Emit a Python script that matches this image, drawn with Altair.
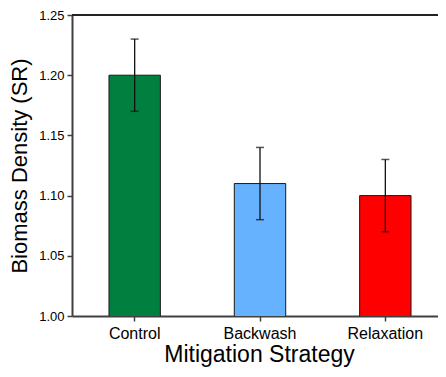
import altair as alt
import pandas as pd

categories = ["Control", "Backwash", "Relaxation"]
means = [1.20, 1.11, 1.10]
err_low = [1.17, 1.08, 1.07]
err_high = [1.23, 1.14, 1.13]
colors = ["#007F3F", "#66B2FF", "#FF0000"]

df = pd.DataFrame({"cat": categories, "mean": means, "lo": err_low, "hi": err_high})

W, H = 366, 301
RANGE_W = 376
FONT = "Liberation Sans"

xenc = alt.X("cat:N", sort=categories, title="Mitigation Strategy",
             scale=alt.Scale(paddingInner=0.59, paddingOuter=0.295, range=[0, RANGE_W]),
             axis=alt.Axis(labelAngle=0, labelFontSize=16, titleFontSize=23,
                           labelFont=FONT, titleFont=FONT, titleFontWeight="normal",
                           labelColor="#000", titleColor="#000",
                           domainColor="#404040", domainWidth=2,
                           tickColor="#404040", tickWidth=1.5, tickSize=5,
                           labelPadding=4, titlePadding=2, titleX=187))

yscale = alt.Scale(domain=[1.0, 1.25], nice=False, zero=False)
yaxis = alt.Axis(values=[1.0, 1.025, 1.05, 1.075, 1.10, 1.125, 1.15, 1.175, 1.20, 1.225, 1.25],
                 format=".2f",
                 labelExpr="round(datum.value*40) % 2 == 1 ? '' : datum.label",
                 labelOverlap=False,
                 tickSize={"condition": {"test": "round(datum.value*40) % 2 == 1", "value": 3}, "value": 5},
                 grid=False, labelFontSize=13, titleFontSize=22,
                 labelFont=FONT, titleFont=FONT, titleFontWeight="normal",
                 labelColor="#000", titleColor="#000",
                 domainColor="#404040", domainWidth=2,
                 tickColor="#404040", tickWidth=1.5,
                 labelPadding=3, titlePadding=7)

base = alt.Chart(df)

bars = base.mark_bar(stroke="#1a1a1a", strokeWidth=1, clip=True).encode(
    x=xenc,
    y=alt.Y("mean:Q", scale=yscale, axis=yaxis, title="Biomass Density (SR)"),
    color=alt.Color("cat:N", scale=alt.Scale(domain=categories, range=colors), legend=None),
)

rules = base.mark_rule(color="#111", strokeWidth=1.3).encode(
    x=alt.X("cat:N", sort=categories),
    y=alt.Y("lo:Q", scale=yscale),
    y2="hi:Q",
)

caps_lo = base.mark_tick(color="#111", size=8, thickness=1.5).encode(
    x=alt.X("cat:N", sort=categories), y=alt.Y("lo:Q", scale=yscale))
caps_hi = base.mark_tick(color="#111", size=8, thickness=1.5).encode(
    x=alt.X("cat:N", sort=categories), y=alt.Y("hi:Q", scale=yscale))

topline = alt.Chart(pd.DataFrame({"a": [0]})).mark_rule(color="#222", strokeWidth=2).encode(
    x=alt.value(0), x2=alt.value(RANGE_W), y=alt.value(0))

chart = alt.layer(bars, rules, caps_lo, caps_hi, topline).properties(
    width=W, height=H,
    autosize=alt.AutoSizeParams(type="none"),
    padding={"left": 64, "top": 7, "right": 0, "bottom": 53},
).configure_view(stroke=None).configure(background="white")

chart.save("out.html", embed_options={"renderer": "svg", "actions": False})
